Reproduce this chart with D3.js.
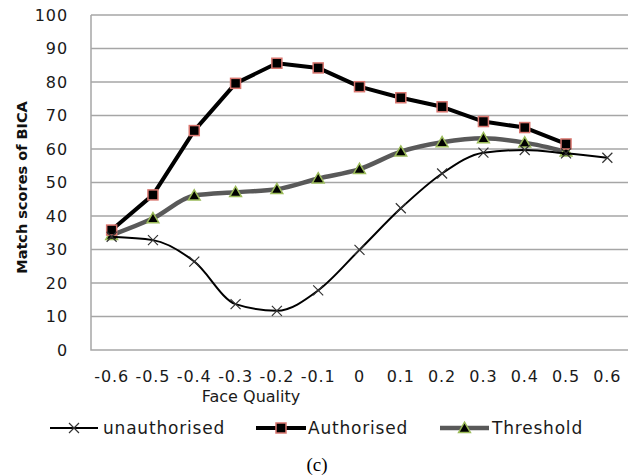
<!DOCTYPE html>
<html lang="en">
<head>
  <meta charset="UTF-8">
  <title>Match scores of BICA vs Face Quality</title>
  <script src="https://d3js.org/d3.v7.min.js"></script>
  <style>
    body {
      margin: 0;
      background: #fff;
      font-family: "DejaVu Sans", sans-serif;
    }
    .grid line {
      stroke: #a6a6a6;
      stroke-width: 1.5px;
    }
    .tick-label {
      font-size: 16px;
      letter-spacing: 0.9px;
      fill: #1a1a1a;
    }
  </style>
</head>
<body>
  <svg id="chart" width="628" height="475"></svg>
  <script>
    // Data
    const categories = ["-0.6", "-0.5", "-0.4", "-0.3", "-0.2", "-0.1", "0", "0.1", "0.2", "0.3", "0.4", "0.5", "0.6"];
    const unauthorised = [33.8, 32.8, 26.4, 13.7, 11.7, 17.8, 29.9, 42.3, 52.7, 58.9, 59.7, 58.7, 57.4];
    const authorised = [35.8, 46.3, 65.5, 79.6, 85.6, 84.2, 78.6, 75.3, 72.6, 68.2, 66.4, 61.5, null];
    const threshold = [34.3, 39.3, 46.1, 47.1, 48.0, 51.2, 54.0, 59.2, 62.0, 63.2, 61.9, 59.2, null];
    const yTicks = [0, 10, 20, 30, 40, 50, 60, 70, 80, 90, 100];

    const width = 628;
    const height = 475;
    const margin = { top: 15, right: 0, bottom: 125, left: 91 };

    const svg = d3.select("#chart");

    const x = d3.scaleBand()
      .domain(categories)
      .range([margin.left, width - margin.right])
      .padding(0);
    const y = d3.scaleLinear()
      .domain([0, 100])
      .range([height - margin.bottom, margin.top]);

    const cx = c => x(c) + x.bandwidth() / 2;

    // Horizontal gridlines
    svg.append("g")
      .attr("class", "grid")
      .selectAll("line")
      .data(yTicks.slice(1))
      .join("line")
        .attr("x1", margin.left)
        .attr("x2", width)
        .attr("y1", d => y(d))
        .attr("y2", d => y(d));

    // Axes lines (left and bottom)
    svg.append("path")
      .attr("d", `M${margin.left},${margin.top}V${y(0)}H${width}`)
      .attr("fill", "none")
      .attr("stroke", "#a6a6a6")
      .attr("stroke-width", 1.5);

    // Y tick labels
    svg.append("g")
      .selectAll("text")
      .data(yTicks)
      .join("text")
        .attr("class", "tick-label")
        .attr("x", 68)
        .attr("y", d => y(d))
        .attr("dy", "0.35em")
        .attr("text-anchor", "end")
        .text(d => d);

    // X tick labels
    svg.append("g")
      .selectAll("text")
      .data(categories)
      .join("text")
        .attr("class", "tick-label")
        .attr("x", d => cx(d))
        .attr("y", 376)
        .attr("dy", "0.35em")
        .attr("text-anchor", "middle")
        .text(d => d);

    // Axis titles
    svg.append("text")
      .attr("transform", `translate(22,${(y(0) + y(100)) / 2 + 5}) rotate(-90)`)
      .attr("text-anchor", "middle")
      .attr("dy", "0.35em")
      .style("font-size", "14.5px")
      .style("font-weight", "bold")
      .attr("fill", "#111")
      .text("Match scores of BICA");

    svg.append("text")
      .attr("x", 251)
      .attr("y", 396)
      .attr("dy", "0.35em")
      .attr("text-anchor", "middle")
      .style("font-size", "16px")
      .attr("fill", "#1a1a1a")
      .text("Face Quality");

    // Series definitions
    const series = [
      { name: "unauthorised", values: unauthorised, color: "#000", width: 2,
        curve: d3.curveMonotoneX, marker: "x" },
      { name: "Authorised", values: authorised, color: "#000", width: 4,
        curve: d3.curveLinear, marker: "square" },
      { name: "Threshold", values: threshold, color: "#595959", width: 4.5,
        curve: d3.curveMonotoneX, marker: "triangle" }
    ];

    function drawMarker(g, type, px, py) {
      if (type === "x") {
        const s = 5;
        g.append("path")
          .attr("d", `M${px - s},${py - s}L${px + s},${py + s}M${px - s},${py + s}L${px + s},${py - s}`)
          .attr("stroke", "#333")
          .attr("stroke-width", 1.2)
          .attr("fill", "none");
      } else if (type === "square") {
        g.append("rect")
          .attr("x", px - 5).attr("y", py - 5)
          .attr("width", 10).attr("height", 10)
          .attr("fill", "#000")
          .attr("stroke", "#d9766f")
          .attr("stroke-width", 1.5);
      } else {
        g.append("path")
          .attr("d", d3.symbol().type(d3.symbolTriangle).size(60)())
          .attr("transform", `translate(${px},${py + 1})`)
          .attr("fill", "#000")
          .attr("stroke", "#9bbb59")
          .attr("stroke-width", 1.5);
      }
    }

    // Draw order: threshold, authorised, then unauthorised
    const drawOrder = [series[2], series[1], series[0]];
    drawOrder.forEach(s => {
      const pts = categories.map((c, i) => ({ c, v: s.values[i] }));
      const line = d3.line()
        .defined(d => d.v != null)
        .x(d => cx(d.c))
        .y(d => y(d.v))
        .curve(s.curve);
      svg.append("path")
        .datum(pts)
        .attr("d", line)
        .attr("fill", "none")
        .attr("stroke", s.color)
        .attr("stroke-width", s.width)
        .attr("stroke-linejoin", "round");
      const mg = svg.append("g");
      pts.filter(d => d.v != null).forEach(d => drawMarker(mg, s.marker, cx(d.c), y(d.v)));
    });

    // Legend
    const legendItems = [
      { s: series[0], x0: 50, x1: 98, tx: 103 },
      { s: series[1], x0: 256, x1: 306, tx: 308 },
      { s: series[2], x0: 440, x1: 489, tx: 492 }
    ];
    const lg = svg.append("g");
    legendItems.forEach(it => {
      const ly = 428;
      lg.append("line")
        .attr("x1", it.x0).attr("x2", it.x1)
        .attr("y1", ly).attr("y2", ly)
        .attr("stroke", it.s.color)
        .attr("stroke-width", it.s.width);
      drawMarker(lg, it.s.marker, (it.x0 + it.x1) / 2, ly);
      lg.append("text")
        .attr("x", it.tx)
        .attr("y", ly)
        .attr("dy", "0.35em")
        .style("font-size", "17px")
        .style("letter-spacing", "0.8px")
        .attr("fill", "#1a1a1a")
        .text(it.s.name);
    });

    // Sub-figure caption
    svg.append("text")
      .attr("x", 317)
      .attr("y", 464)
      .attr("dy", "0.35em")
      .attr("text-anchor", "middle")
      .style("font-family", "'Liberation Serif', serif")
      .style("font-size", "19px")
      .attr("fill", "#000")
      .text("(c)");
  </script>
</body>
</html>
